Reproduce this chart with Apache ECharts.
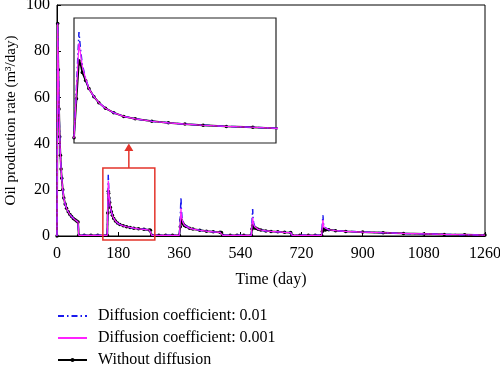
<!DOCTYPE html>
<html>
<head>
<meta charset="utf-8">
<script src="https://cdn.jsdelivr.net/npm/echarts@6/dist/echarts.min.js"></script>
<style>html,body{margin:0;padding:0;background:#fff;}#c{width:500px;height:366px;}</style>
</head>
<body>
<div id="c"></div>
<script>
// Time (day)
const days = [
  0, 2, 4, 6, 8, 10, 12, 14, 17, 20, 24, 28, 33, 38, 43, 48, 53, 58, 62, 64, 80, 100, 120, 148,
  149.5, 151, 152, 153, 155, 157, 160, 163, 167, 172, 178, 185, 195, 205, 215, 226, 240, 256, 272, 275, 279, 300, 320, 340, 360,
  363, 365, 366, 368, 371, 375, 380, 390, 400, 420, 440, 460, 480, 484, 488, 510, 530, 550, 572,
  574, 576, 577, 579, 582, 586, 592, 600, 615, 630, 650, 670, 688, 692, 715, 740, 760, 779,
  781, 783, 784, 786, 790, 800, 820, 850, 900, 960, 1020, 1080, 1140, 1200, 1260
];
// Diffusion coefficient: 0.01
const diff001 = [
  0, 92, 72, 55, 43, 35, 29, 25, 20, 16.5, 13.8, 12, 10.5, 9.3, 8.4, 7.6, 7.0, 6.5, 6.1, 0.3, 0.3, 0.3, 0.3, 0.3,
  13, 26.5, 22, 18.5, 15, 12.5, 10.5, 9.0, 7.6, 6.5, 5.6, 5.0, 4.4, 4.0, 3.7, 3.4, 3.1, 2.9, 2.6, 2.5, 0.3, 0.3, 0.3, 0.3, 0.3,
  8.5, 16.9, 12, 8, 6, 4.8, 4.1, 3.4, 3.0, 2.5, 2.1, 1.8, 1.6, 1.5, 0.3, 0.3, 0.3, 0.3, 0.3,
  6, 11.7, 8, 5.5, 4.2, 3.4, 2.9, 2.6, 2.2, 2.0, 1.8, 1.6, 1.5, 0.3, 0.3, 0.3, 0.3, 0.3,
  5, 9, 6, 4, 3.2, 2.7, 2.3, 2.0, 1.7, 1.4, 1.1, 0.9, 0.7, 0.55, 0.4
];
// Diffusion coefficient: 0.001
const diff0001 = [
  0, 92, 72, 55, 43, 35, 29, 25, 20, 16.5, 13.8, 12, 10.5, 9.3, 8.4, 7.6, 7.0, 6.5, 6.1, 0.3, 0.3, 0.3, 0.3, 0.3,
  12, 23.8, 21, 18, 15, 12.5, 10.5, 9.0, 7.6, 6.5, 5.6, 5.0, 4.4, 4.0, 3.7, 3.4, 3.1, 2.9, 2.6, 2.5, 0.3, 0.3, 0.3, 0.3, 0.3,
  6, 12, 9.5, 7.2, 5.8, 4.7, 4.1, 3.4, 3.0, 2.5, 2.1, 1.8, 1.6, 1.5, 0.3, 0.3, 0.3, 0.3, 0.3,
  4.5, 8, 6.5, 5, 4, 3.4, 2.9, 2.6, 2.2, 2.0, 1.8, 1.6, 1.5, 0.3, 0.3, 0.3, 0.3, 0.3,
  4, 7, 5, 3.8, 3.1, 2.7, 2.3, 2.0, 1.7, 1.4, 1.1, 0.9, 0.7, 0.55, 0.4
];
// Without diffusion
const noDiff = [
  0, 92, 72, 55, 43, 35, 29, 25, 20, 16.5, 13.8, 12, 10.5, 9.3, 8.4, 7.6, 7.0, 6.5, 6.1, 0.3, 0.3, 0.3, 0.3, 0.3,
  10, 19.4, 18.5, 16.5, 14.5, 12.5, 10.5, 9.0, 7.6, 6.5, 5.6, 5.0, 4.4, 4.0, 3.7, 3.4, 3.1, 2.9, 2.6, 2.5, 0.3, 0.3, 0.3, 0.3, 0.3,
  4, 7, 6.6, 6, 5.3, 4.5, 4.1, 3.4, 3.0, 2.5, 2.1, 1.8, 1.6, 1.5, 0.3, 0.3, 0.3, 0.3, 0.3,
  3, 4.5, 4.2, 3.8, 3.5, 3.4, 2.9, 2.6, 2.2, 2.0, 1.8, 1.6, 1.5, 0.3, 0.3, 0.3, 0.3, 0.3,
  2, 3, 2.9, 2.7, 2.6, 2.7, 2.3, 2.0, 1.7, 1.4, 1.1, 0.9, 0.7, 0.55, 0.4
];
const xTicks = [0, 1260, 180];   // min, max, interval
const yTicks = [0, 100, 20];
const seriesNames = ['Diffusion coefficient: 0.01', 'Diffusion coefficient: 0.001', 'Without diffusion'];
// zoomed window (inset) and highlighted region
const insetRange = { x: [148, 270], y: [-1, 30] };
const boxRange = { x: [135, 288], y: [-1.7, 29.4] };

const pairs = arr => days.map((d, i) => [d, arr[i]]);
const FONT = 'Liberation Serif';

const chart = echarts.init(document.getElementById('c'), null, { renderer: 'canvas' });

function makeSeries(gi, symSize) {
  return [
    {
      name: seriesNames[2], type: 'line', xAxisIndex: gi, yAxisIndex: gi, data: pairs(noDiff),
      symbol: 'circle', symbolSize: symSize, showSymbol: true,
      itemStyle: { color: '#000' }, lineStyle: { color: '#000', width: 1.8 }, z: 2, animation: false
    },
    {
      name: seriesNames[0], type: 'line', xAxisIndex: gi, yAxisIndex: gi, data: pairs(diff001),
      symbol: 'none', itemStyle: { color: '#1a1aee' },
      lineStyle: { color: '#1a1aee', width: 1.5, type: [6, 3, 1.5, 3] }, z: 3, animation: false
    },
    {
      name: seriesNames[1], type: 'line', xAxisIndex: gi, yAxisIndex: gi, data: pairs(diff0001),
      symbol: 'none', itemStyle: { color: '#ff22ff' },
      lineStyle: { color: '#ff22ff', width: 1.2 }, z: 4, animation: false
    }
  ];
}

const axisText = { color: '#000', fontFamily: FONT, fontSize: 16, formatter: v => String(v) };

chart.setOption({
  backgroundColor: '#fff',
  animation: false,
  grid: [
    { left: 57, right: 15, top: 5, bottom: 130, outerBoundsMode: 'none', containLabel: false,
      show: true, borderColor: '#000', borderWidth: 1, backgroundColor: 'transparent' },
    { left: 74, top: 18, width: 202, height: 125, outerBoundsMode: 'none', containLabel: false,
      show: true, borderColor: '#222', borderWidth: 1.2, backgroundColor: '#fff', z: 5 }
  ],
  legend: {
    orient: 'vertical', left: 57, top: 307, height: 80, padding: 0, itemWidth: 29, itemHeight: 5, itemGap: 4,
    data: [
      { name: seriesNames[0], itemStyle: { opacity: 0 } },
      { name: seriesNames[1], itemStyle: { opacity: 0 } },
      { name: seriesNames[2] }
    ],
    textStyle: { color: '#000', fontFamily: FONT, fontSize: 16, lineHeight: 18, padding: [0, 0, 0, 6] }
  },
  xAxis: [
    {
      type: 'value', gridIndex: 0, min: xTicks[0], max: xTicks[1], interval: xTicks[2],
      name: 'Time (day)', nameLocation: 'middle', nameGap: 36, nameMoveOverlap: false,
      nameTextStyle: { color: '#000', fontFamily: FONT, fontSize: 16 },
      axisLine: { show: true, lineStyle: { color: '#000', width: 1 } },
      axisTick: { show: true, inside: true, length: 4, lineStyle: { color: '#000' } },
      axisLabel: Object.assign({ margin: 10 }, axisText),
      splitLine: { show: false }
    },
    {
      type: 'value', gridIndex: 1, min: insetRange.x[0], max: insetRange.x[1], show: false
    }
  ],
  yAxis: [
    {
      type: 'value', gridIndex: 0, min: yTicks[0], max: yTicks[1], interval: yTicks[2],
      name: 'Oil production rate (m³/day)', nameLocation: 'middle', nameGap: 38, nameMoveOverlap: false,
      nameTextStyle: { color: '#000', fontFamily: FONT, fontSize: 15 },
      axisLine: { show: true, lineStyle: { color: '#000', width: 1 } },
      axisTick: { show: true, inside: true, length: 4, lineStyle: { color: '#000' } },
      axisLabel: Object.assign({ margin: 7 }, axisText),
      splitLine: { show: false }
    },
    {
      type: 'value', gridIndex: 1, min: insetRange.y[0], max: insetRange.y[1], show: false
    }
  ],
  series: makeSeries(0, 3.5).concat(makeSeries(1, 3.5).map(s => Object.assign(s, { z: s.z + 10 })))
});

// annotation: red box around the zoomed region and arrow pointing to the inset
const p1 = chart.convertToPixel({ xAxisIndex: 0, yAxisIndex: 0 }, [boxRange.x[0], boxRange.y[1]]);
const p2 = chart.convertToPixel({ xAxisIndex: 0, yAxisIndex: 0 }, [boxRange.x[1], boxRange.y[0]]);
const ib = chart.convertToPixel({ xAxisIndex: 1, yAxisIndex: 1 }, [insetRange.x[0], insetRange.y[0]]);
const cx = (p1[0] + p2[0]) / 2;
const red = '#e3342b';
chart.setOption({
  graphic: [
    { type: 'rect', z: 100, shape: { x: p1[0], y: p1[1], width: p2[0] - p1[0], height: p2[1] - p1[1] },
      style: { fill: 'none', stroke: red, lineWidth: 1.5 } },
    { type: 'line', z: 100, shape: { x1: cx, y1: p1[1], x2: cx, y2: ib[1] + 6 },
      style: { stroke: red, lineWidth: 1.5 } },
    { type: 'polygon', z: 100, shape: { points: [[cx - 4.5, ib[1] + 8], [cx + 4.5, ib[1] + 8], [cx, ib[1] + 0.5]] },
      style: { fill: red } }
  ]
});
</script>
</body>
</html>
